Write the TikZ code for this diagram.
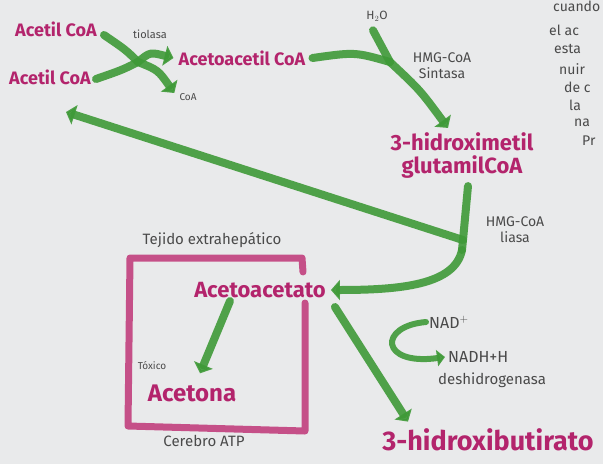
\documentclass[tikz,border=0pt]{standalone}
\usepackage{fontspec}
\setmainfont{Fira Sans}
\usetikzlibrary{arrows.meta}
\definecolor{paper}{HTML}{E9EAEB}
\definecolor{mag}{HTML}{B3246C}
\definecolor{boxmag}{HTML}{C2407E}
\definecolor{leaf}{HTML}{3F9A38}
\definecolor{pencil}{HTML}{4A4A4A}
\tikzset{
  title/.style={text=mag, font=\bfseries\fontsize{18}{18}\selectfont, inner sep=1pt},
  bigtitle/.style={text=mag, font=\bfseries\fontsize{22}{23}\selectfont, inner sep=1pt, align=center},
  note/.style={text=pencil, font=\fontsize{14}{16}\selectfont, inner sep=1pt, align=center},
  small/.style={text=pencil, font=\fontsize{10}{11}\selectfont, inner sep=1pt},
  side/.style={text=pencil, font=\fontsize{14}{14}\selectfont, inner sep=0pt, anchor=west},
  gline/.style={draw=leaf, line width=8pt, line cap=round, line join=round, opacity=0.9},
  garrow/.style={gline, -{Triangle[length=9pt,width=20pt]}},
  boxline/.style={draw=boxmag, line width=7pt, line cap=round, line join=round, opacity=0.9}
}
\begin{document}
\begin{tikzpicture}[x=1pt,y=-1pt]
\fill[paper] (0,0) rectangle (603,464);
\clip (0,0) rectangle (603,464);
% magenta box
\draw[boxline] (303,272) -- (302,258) -- (130,258) -- (128,426) -- (305,431) -- (305,303);
% nodes
\node[title] (a1) at (56,29) {Acetil CoA};
\node[title] (a2) at (50,77) {Acetil CoA};
\node[small,font=\fontsize{11}{12}\selectfont] (tio) at (150,34) {tiolasa};
\node[title] (aac) at (242,58) {Acetoacetil CoA};
\node[small] (coa) at (188,97) {CoA};
\node[small,font=\fontsize{12}{12}\selectfont] (h2o) at (377,16) {H$_2$O};
\node[note] (hmgs) at (442,66) {HMG-CoA\\Sintasa};
\node[bigtitle] (hmg) at (462,156) {3-hidroximetil\\glutamilCoA};
\node[note] (liasa) at (515,230) {HMG-CoA\\liasa};
\node[note,font=\fontsize{15}{15}\selectfont] (tej) at (212,240) {Tejido extrahepático};
\node[bigtitle] (acac) at (260,290) {Acetoacetato};
\node[small] (tox) at (152,366) {Tóxico};
\node[bigtitle,font=\bfseries\fontsize{24}{24}\selectfont] (acet) at (192,393) {Acetona};
\node[note,font=\fontsize{15}{15}\selectfont] (cer) at (204,441) {Cerebro ATP};
\node[note,anchor=west,font=\fontsize{16}{16}\selectfont] (nad) at (428,322) {NAD$^+$};
\node[note,anchor=west,font=\fontsize{16}{16}\selectfont] (nadh) at (447,357) {NADH+H};
\node[note,font=\fontsize{15}{15}\selectfont] (desh) at (492,380) {deshidrogenasa};
\node[bigtitle,font=\bfseries\fontsize{27}{27}\selectfont] (hb) at (488,440) {3-hidroxibutirato};
% side text (cut off at the page edge)
\node[side] (s1) at (553,6) {cuando};
\node[side] (s2) at (549,30) {el ac};
\node[side] (s3) at (554,49) {esta};
\node[side] (s4) at (559,69) {nuir};
\node[side] (s5) at (564,87) {de c};
\node[side] (s6) at (569,105) {la};
\node[side] (s7) at (574,123) {na};
\node[side] (s8) at (582,141) {Pr};
% junctions
\coordinate (j1) at (138,62);
\coordinate (j2) at (390,62);
\coordinate (j3) at (463,240);
\coordinate (j4) at (462,250);
% thiolase
\draw[gline] ([shift={(6,6)}]a1.east) .. controls (126,50) .. (j1);
\draw[gline] ([shift={(4,2)}]a2.east) .. controls (122,70) .. (j1);
\draw[garrow] (j1) .. controls (150,52) .. ([xshift=-4]aac.west);
\draw[garrow] (j1) .. controls (158,70) .. ([shift={(-4,-4)}]coa.west);
% HMG-CoA synthase
\draw[gline] ([xshift=6]aac.east) .. controls (355,52) .. (j2);
\draw[gline] ([shift={(-4,8)}]h2o.south) -- (j2);
\draw[garrow] (j2) .. controls (420,90) .. ([shift={(-14,-4)}]hmg.north);
% HMG-CoA lyase
\draw[gline] ([shift={(6,6)}]hmg.south) -- (j3) -- (j4);
\draw[garrow] (j3) -- (66,112);
\draw[garrow] (j4) .. controls (455,285) and (400,290) .. ([xshift=4]acac.east);
% acetoacetate branches
\draw[garrow] ([shift={(-30,2)}]acac.south) -- ([shift={(8,-10)}]acet.north);
\draw[garrow] ([shift={(8,8)}]acac.south east) -- ([shift={(-80,-6)}]hb.north);
% dehydrogenase
\draw[draw=leaf, line width=6pt, line cap=round, opacity=0.9, -{Triangle[length=8pt,width=16pt]}] ([xshift=-2]nad.west) .. controls (378,326) and (380,366) .. ([xshift=-2]nadh.west);
\end{tikzpicture}
\end{document}
